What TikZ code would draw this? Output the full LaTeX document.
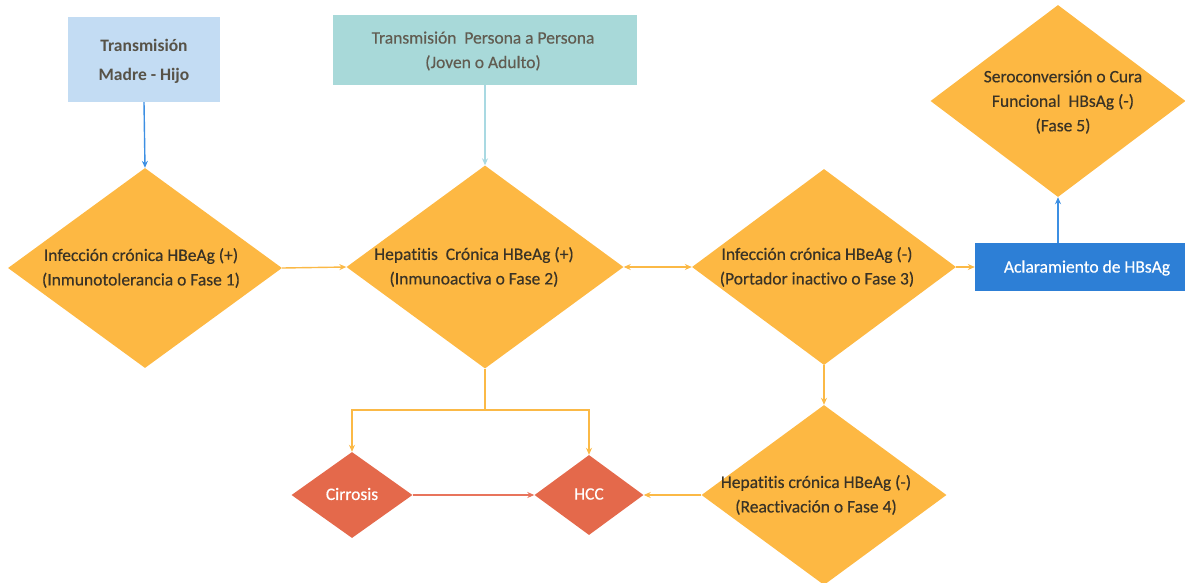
\documentclass[tikz,border=0pt]{standalone}
\usepackage{fontspec}
\setmainfont{Carlito}[Ligatures=NoCommon]
\usetikzlibrary{shapes.geometric,arrows.meta}
\definecolor{orfill}{HTML}{FDB843}
\definecolor{redfill}{HTML}{E4694B}
\definecolor{bluerect}{HTML}{2D7FD6}
\definecolor{lightblue}{HTML}{C3DCF3}
\definecolor{tealbox}{HTML}{A8D9D9}
\definecolor{bluearr}{HTML}{3C8FE3}
\definecolor{tealarr}{HTML}{A9D9E2}
\definecolor{orline}{HTML}{FBB946}
\definecolor{redarr}{HTML}{E8745C}
\definecolor{txtdark}{HTML}{3A3326}
\tikzset{
  dia/.style={diamond, fill=orfill, draw=none, inner sep=0pt},
  rdia/.style={diamond, fill=redfill, draw=none, inner sep=0pt},
  txt/.style={align=center, font=\fontsize{17.5}{24.5}\selectfont\addfontfeature{FakeBold=0.4}, text=txtdark, inner sep=0pt},
  wtxt/.style={align=center, font=\fontsize{17.5}{21}\selectfont\addfontfeature{FakeBold=0.4}, text=white, inner sep=0pt},
  tip/.style={-{Stealth[length=7pt,width=6pt]}},
  oarr/.style={tip, draw=orline, line width=1.4pt},
}
\begin{document}
\begin{tikzpicture}[x=1pt,y=-1pt]
\useasboundingbox (0,0) rectangle (1185,582);
% top boxes
\node[fill=lightblue, minimum width=152pt, minimum height=85pt, inner sep=0pt] (b1) at (144,59.5) {};
\node[align=center, font=\bfseries\fontsize{17.5}{29}\selectfont, text=txtdark!85, inner sep=0pt] (b1t) at (144,61) {Transmisión\\Madre - Hijo};
\node[fill=tealbox, minimum width=304pt, minimum height=70pt, inner sep=0pt] (b2) at (485,50) {};
\node[txt, text=txtdark!80] (b2t) at (483,51) {Transmisión~ Persona a Persona\\(Joven o Adulto)};
% main diamonds
\node[dia, minimum width=274pt, minimum height=200pt] (d1) at (145,268) {};
\node[txt] (d1t) at (141,268) {Infección crónica HBeAg (+)\\(Inmunotolerancia o Fase 1)};
\node[dia, minimum width=277pt, minimum height=203pt] (d2) at (485,267) {};
\node[txt] (d2t) at (474,267) {Hepatitis~ Crónica HBeAg (+)\\(Inmunoactiva o Fase 2)};
\node[dia, minimum width=264pt, minimum height=196pt] (d3) at (824,267) {};
\node[txt] (d3t) at (817,267) {Infección crónica HBeAg (-)\\(Portador inactivo o Fase 3)};
\node[dia, minimum width=245pt, minimum height=180pt] (d4) at (824,495) {};
\node[txt] (d4t) at (816,495) {Hepatitis crónica HBeAg (-)\\(Reactivación o Fase 4)};
\node[dia, minimum width=255pt, minimum height=192pt] (d5) at (1058,101) {};
\node[txt] (d5t) at (1063,102) {Seroconversión o Cura\\Funcional~ HBsAg (-)\\(Fase 5)};
% blue rect
\node[fill=bluerect, minimum width=212pt, minimum height=48pt, inner sep=0pt] (r) at (1081,267) {};
\node[wtxt] (rt) at (1087,268) {Aclaramiento de HBsAg};
% red diamonds
\node[rdia, minimum width=121pt, minimum height=86pt] (ci) at (352,495) {};
\node[wtxt] (cit) at (352,494) {Cirrosis};
\node[rdia, minimum width=109pt, minimum height=80pt] (hcc) at (589,495) {};
\node[wtxt] (hcct) at (589,494) {HCC};
% connectors
\draw[tip, draw=bluearr, line width=1.4pt] (b1.south) -- (d1.north);
\draw[tip, draw=tealarr, line width=1.4pt] (b2.south) -- (d2.north);
\draw[oarr] (d1.east) -- (d2.west);
\draw[oarr, {Stealth[length=7pt,width=6pt]}-{Stealth[length=7pt,width=6pt]}] (d2.east) -- (d3.west);
\draw[oarr] (d3.east) -- (r.west);
\draw[tip, draw=bluearr, line width=1.4pt] (r.north -| d5.south) -- (d5.south);
\coordinate (split) at (485,410);
\draw[orline, line width=1.4pt] (d2.south) -- (split);
\draw[oarr] (split) -| (ci.north);
\draw[oarr] (split) -| (hcc.north);
\draw[oarr] (d3.south) -- (d4.north);
\draw[oarr] (d4.west) -- (hcc.east);
\draw[tip, draw=redarr, line width=1.4pt] (ci.east) -- (hcc.west);
\end{tikzpicture}
\end{document}
